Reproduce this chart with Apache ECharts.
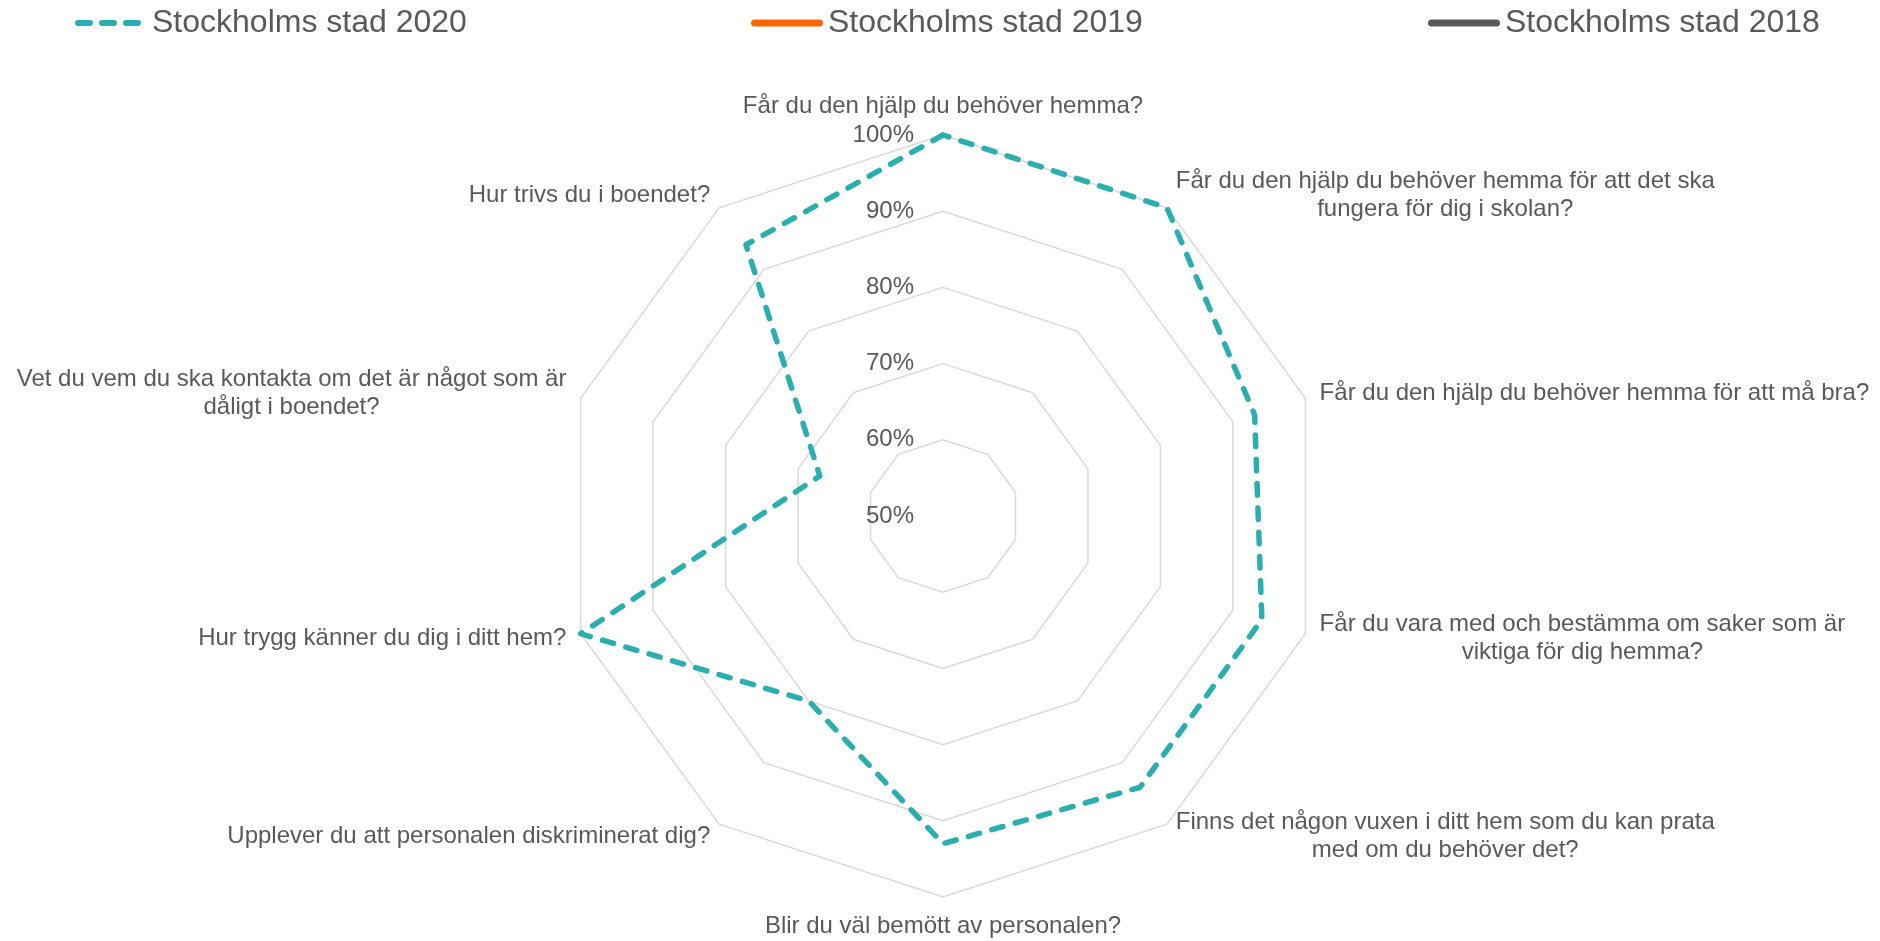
<!DOCTYPE html>
<html>
<head>
<meta charset="utf-8">
<title>Stockholms stad</title>
<script src="https://cdn.jsdelivr.net/npm/echarts@6/dist/echarts.min.js"></script>
<style>
    html, body { margin: 0; padding: 0; background: #ffffff; }
    #main { width: 1880px; height: 941px; }
</style>
</head>
<body>
<div id="main"></div>
<script>
// frågor, medurs från toppen
var questions = [
    'Får du den hjälp du behöver hemma?',
    'Får du den hjälp du behöver hemma för att det ska\nfungera för dig i skolan?',
    'Får du den hjälp du behöver hemma för att må bra?',
    'Får du vara med och bestämma om saker som är\nviktiga för dig hemma?',
    'Finns det någon vuxen i ditt hem som du kan prata\nmed om du behöver det?',
    'Blir du väl bemött av personalen?',
    'Upplever du att personalen diskriminerat dig?',
    'Hur trygg känner du dig i ditt hem?',
    'Vet du vem du ska kontakta om det är något som är\ndåligt i boendet?',
    'Hur trivs du i boendet?'
];
var seriesNames = ['Stockholms stad 2020', 'Stockholms stad 2019', 'Stockholms stad 2018'];
var values2020 = [100, 100, 93, 94, 94, 93, 80, 100, 67, 94];
var values2019 = [];
var values2018 = [];
var axisMin = 50;
var axisMax = 100;

var textColor = '#595959';
var font = 'Liberation Sans, Arial, sans-serif';

// echarts radar ritar moturs, så vänd ordningen (första frågan står kvar överst)
function toCcw(arr){
    if (arr.length == 0) return arr;
    var out = [arr[0]];
    for (var i = arr.length - 1; i > 0; i--) {
        out.push(arr[i]);
    }
    return out;
}

var indicators = toCcw(questions).map(function(q, i){
    var ind = {name: q, min: axisMin, max: axisMax};
    if (i == 0) ind.axisLabel = {show: true};
    return ind;
});

var dashIcon = 'path://M3,0H15A3,3,0,0,1,15,6H3A3,3,0,0,1,3,0Z M27,0H39A3,3,0,0,1,39,6H27A3,3,0,0,1,27,0Z M51,0H63A3,3,0,0,1,63,6H51A3,3,0,0,1,51,0Z';
var lineIcon = 'path://M3.5,0H68.5A3.5,3.5,0,0,1,68.5,7H3.5A3.5,3.5,0,0,1,3.5,0Z';

function legendAt(left, name, icon, w, h, pad){
    return {
        left: left,
        top: 7,
        padding: 0,
        itemWidth: w,
        itemHeight: h,
        selectedMode: false,
        data: [{name: name, icon: icon}],
        textStyle: {fontSize: 32, color: textColor, fontFamily: font, padding: [0, 0, 0, pad]}
    };
}

var myChart = echarts.init(document.getElementById('main'));
var option = {
    backgroundColor: '#ffffff',
    animation: false,
    legend: [
        legendAt(75, seriesNames[0], dashIcon, 66, 6, 6),
        legendAt(751, seriesNames[1], lineIcon, 72, 7, 0),
        legendAt(1428, seriesNames[2], lineIcon, 72, 7, 0)
    ],
    radar: {
        center: [943, 516],
        radius: 381,
        startAngle: 90,
        shape: 'polygon',
        splitNumber: 5,
        nameGap: 15,
        indicator: indicators,
        axisName: {
            color: textColor,
            fontSize: 24,
            fontFamily: font,
            lineHeight: 28,
            formatter: function(name){
                return name.split('\n').map(function(l){ return '{c|' + l + '}'; }).join('\n');
            },
            rich: {
                c: {align: 'center', color: textColor, fontSize: 24, fontFamily: font, lineHeight: 28}
            }
        },
        axisLine: {show: false},
        axisTick: {show: false},
        axisLabel: {
            show: false,
            color: textColor,
            fontSize: 24,
            fontFamily: font,
            margin: 29,
            padding: [5, 0, 0, 0],
            formatter: '{value}%'
        },
        splitLine: {lineStyle: {color: '#d9d9d9', width: 1.5}},
        splitArea: {show: false}
    },
    series: [
        {
            type: 'radar',
            symbol: 'none',
            data: [
                {
                    name: seriesNames[0],
                    value: toCcw(values2020),
                    itemStyle: {color: '#2AAEB0'},
                    lineStyle: {color: '#2AAEB0', width: 5.5, type: [11.5, 12.8], cap: 'round', join: 'round'}
                },
                {
                    name: seriesNames[1],
                    value: toCcw(values2019),
                    itemStyle: {color: '#FF6600'},
                    lineStyle: {color: '#FF6600', width: 5}
                },
                {
                    name: seriesNames[2],
                    value: toCcw(values2018),
                    itemStyle: {color: '#595959'},
                    lineStyle: {color: '#595959', width: 5}
                }
            ]
        }
    ]
};
myChart.setOption(option);
</script>
</body>
</html>
